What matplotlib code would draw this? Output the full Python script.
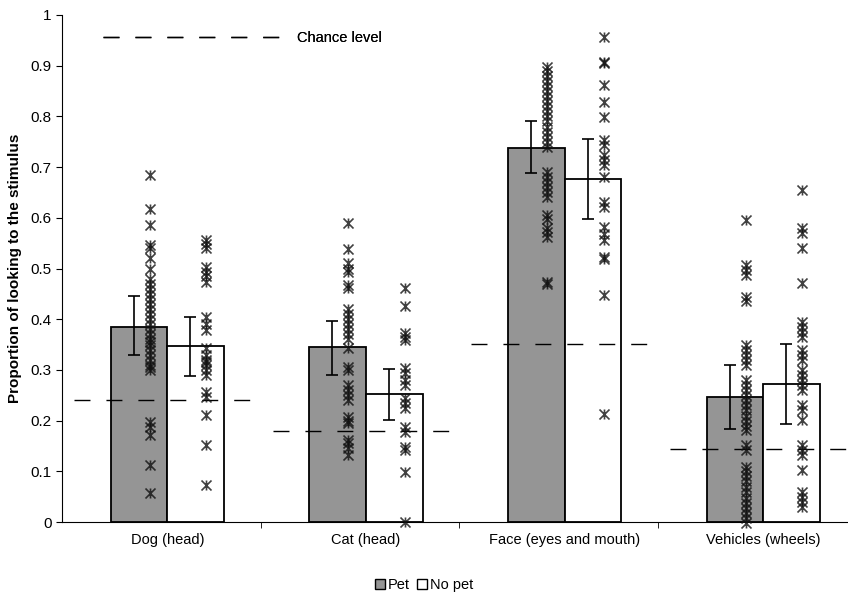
import matplotlib.pyplot as plt
import numpy as np
from matplotlib.lines import Line2D
from matplotlib.patches import Patch
from matplotlib.path import Path

plt.rcParams['font.family'] = ['Liberation Sans', 'DejaVu Sans']

categories = ['Dog (head)', 'Cat (head)', 'Face (eyes and mouth)', 'Vehicles (wheels)']
pet_mean = [0.385, 0.345, 0.737, 0.247]
nopet_mean = [0.347, 0.252, 0.677, 0.273]
pet_err_low = [0.329, 0.290, 0.688, 0.184]
pet_err_high = [0.446, 0.397, 0.790, 0.310]
nopet_err_low = [0.287, 0.201, 0.598, 0.193]
nopet_err_high = [0.405, 0.301, 0.755, 0.352]
chance = [0.24, 0.18, 0.352, 0.144]

dog_pet = [0.684, 0.617, 0.586, 0.546, 0.54, 0.52, 0.50, 0.48, 0.47, 0.46, 0.45, 0.44, 0.43,
           0.42, 0.41, 0.40, 0.39, 0.38, 0.37, 0.36, 0.355, 0.35, 0.34, 0.33, 0.32, 0.31,
           0.305, 0.30, 0.198, 0.188, 0.172, 0.112, 0.057]
dog_nopet = [0.556, 0.548, 0.54, 0.503, 0.494, 0.485, 0.474, 0.405, 0.39, 0.378, 0.343, 0.33,
             0.32, 0.315, 0.31, 0.30, 0.29, 0.257, 0.247, 0.211, 0.152, 0.073]
cat_pet = [0.589, 0.538, 0.511, 0.50, 0.493, 0.467, 0.461, 0.42, 0.41, 0.40, 0.39, 0.38, 0.37,
           0.36, 0.343, 0.306, 0.30, 0.27, 0.26, 0.25, 0.24, 0.208, 0.2, 0.195, 0.162, 0.155,
           0.145, 0.132]
cat_nopet = [0.461, 0.426, 0.372, 0.365, 0.358, 0.304, 0.293, 0.28, 0.27, 0.245, 0.235, 0.225,
             0.188, 0.178, 0.148, 0.142, 0.099, 0.0]
face_pet = [0.898, 0.89, 0.88, 0.87, 0.86, 0.85, 0.84, 0.83, 0.82, 0.81, 0.80, 0.79, 0.78, 0.77,
            0.76, 0.75, 0.74, 0.691, 0.681, 0.671, 0.661, 0.651, 0.642, 0.605, 0.598, 0.58,
            0.572, 0.563, 0.474, 0.47]
face_nopet = [0.957, 0.908, 0.905, 0.862, 0.829, 0.798, 0.753, 0.744, 0.724, 0.714, 0.704,
              0.681, 0.632, 0.622, 0.582, 0.569, 0.556, 0.523, 0.518, 0.448, 0.214]
veh_pet = [0.595, 0.507, 0.497, 0.487, 0.444, 0.435, 0.349, 0.339, 0.33, 0.32, 0.31, 0.28,
           0.27, 0.26, 0.25, 0.24, 0.23, 0.22, 0.21, 0.20, 0.19, 0.181, 0.152, 0.142, 0.109,
           0.1, 0.09, 0.08, 0.07, 0.06, 0.047, 0.037, 0.027, 0.017, 0.008, -0.002]
veh_nopet = [0.655, 0.58, 0.57, 0.54, 0.471, 0.395, 0.385, 0.375, 0.365, 0.339, 0.33, 0.32,
             0.3, 0.29, 0.28, 0.27, 0.26, 0.231, 0.221, 0.201, 0.152, 0.142, 0.132, 0.103,
             0.06, 0.05, 0.04, 0.03]

pet_points = [dog_pet, cat_pet, face_pet, veh_pet]
nopet_points = [dog_nopet, cat_nopet, face_nopet, veh_nopet]

# X with a short vertical stroke, like the Excel star marker
star = Path([(-1, -1), (1, 1), (-1, 1), (1, -1), (0, -1), (0, 1)],
            [Path.MOVETO, Path.LINETO, Path.MOVETO, Path.LINETO, Path.MOVETO, Path.LINETO])

fig = plt.figure(figsize=(8.48, 6.02), dpi=100)
ax = fig.add_axes([62 / 848, 1 - 522 / 602, 1 - 62 / 848, (522 - 15) / 602])

x = np.arange(len(categories))
w = 0.285
ax.bar(x - w / 2, pet_mean, w, color='#959595', edgecolor='black', linewidth=1.3, zorder=2)
ax.bar(x + w / 2, nopet_mean, w, color='white', edgecolor='black', linewidth=1.3, zorder=2)

# error bars (slightly left of bar centres, as in the original)
for xs, m, lo, hi in [(x - w / 2 - 0.027, pet_mean, pet_err_low, pet_err_high),
                      (x + w / 2 - 0.027, nopet_mean, nopet_err_low, nopet_err_high)]:
    yerr = [np.array(m) - np.array(lo), np.array(hi) - np.array(m)]
    ax.errorbar(xs, m, yerr=yerr, fmt='none', ecolor='black', elinewidth=1.2,
                capsize=4, capthick=1.2, zorder=4)

# individual data points
for i in range(len(categories)):
    for pts, off in [(pet_points[i], -w / 2 + 0.053), (nopet_points[i], w / 2 + 0.053)]:
        ax.scatter([i + off] * len(pts), pts, marker=star, s=52, color='#111111',
                   linewidths=1.2, alpha=0.8, zorder=5, clip_on=False)

# chance levels
for i, c in enumerate(chance):
    ax.plot([i - 0.47, i + 0.44], [c, c], color='black', linewidth=1.0,
            dashes=(11.5, 11.5), zorder=3)

ax.set_xlim(-0.53, 3.426)
ax.set_ylim(0, 1)
ax.set_yticks(np.arange(0, 1.01, 0.1))
ax.set_yticklabels(['0', '0.1', '0.2', '0.3', '0.4', '0.5', '0.6', '0.7', '0.8', '0.9', '1'])
ax.set_xticks(x)
ax.set_xticklabels(categories)
ax.set_xticks(x[:-1] + 0.47, minor=True)
ax.tick_params(axis='x', which='major', length=0, labelsize=10.5, pad=8)
ax.tick_params(axis='x', which='minor', length=4, direction='out')
ax.tick_params(axis='y', length=4, direction='out', labelsize=11)
ax.spines['top'].set_visible(False)
ax.spines['right'].set_visible(False)
ax.set_ylabel('Proportion of looking to the stimulus', fontsize=11, fontweight='bold',
              labelpad=6)

chance_handle = Line2D([], [], color='black', linewidth=1.0, dashes=(11.5, 11.5))
leg1 = ax.legend([chance_handle], ['Chance level'], loc='upper left',
                 bbox_to_anchor=(0.035, 0.995), frameon=False, handlelength=12.3,
                 fontsize=10.5, handletextpad=1.0)
ax.add_artist(leg1)

fig.legend([Patch(facecolor='#959595', edgecolor='black'),
            Patch(facecolor='white', edgecolor='black')], ['Pet', 'No pet'],
           loc='center', bbox_to_anchor=(0.5, 0.028), ncol=2, frameon=False,
           handlelength=0.7, handleheight=0.7, handletextpad=0.2, columnspacing=0.5,
           fontsize=10.5)

fig.savefig('out.png', dpi=100)
